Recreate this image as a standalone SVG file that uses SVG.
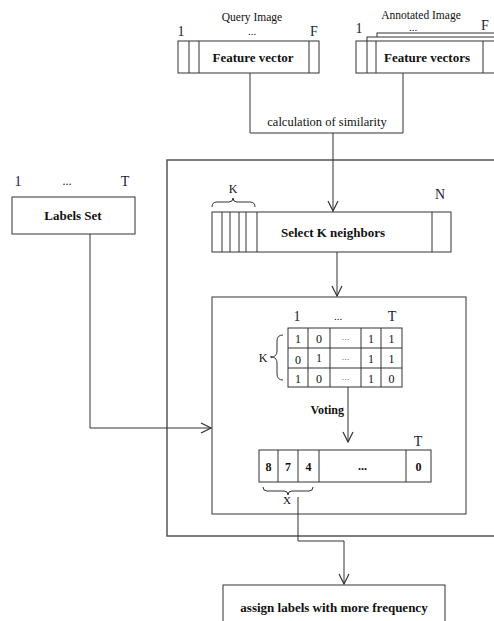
<svg xmlns="http://www.w3.org/2000/svg" width="494" height="621" viewBox="0 0 494 621">
<defs>
<style>
.box{fill:#fff;stroke:#333;stroke-width:1}
.ln{fill:none;stroke:#333;stroke-width:1}
.outer{fill:none;stroke:#555;stroke-width:1.5}
.t{font-family:"Liberation Serif","Times New Roman",serif;fill:#111;text-anchor:middle}
.b{font-weight:bold}
.idx{fill:#1a1a3a;font-size:14px}
</style>
<marker id="arr" viewBox="0 0 12 12" refX="11" refY="6" markerWidth="12" markerHeight="12" markerUnits="userSpaceOnUse" orient="auto">
<path d="M1,1 L11,6 L1,11" fill="none" stroke="#333" stroke-width="1.2"/>
</marker>
</defs>
<rect width="494" height="621" fill="#fff"/>

<g id="outer-frame">
<path class="outer" d="M494,160 H167 V536 H494"/>
</g>

<g id="query-image">
<text class="t" x="252" y="21" font-size="11.5">Query Image</text>
<text class="t idx" x="181" y="36">1</text>
<text class="t" x="252" y="35" font-size="11">...</text>
<text class="t idx" x="314" y="36">F</text>
<rect class="box" x="178" y="41" width="141" height="32"/>
<path class="ln" d="M189,41 V73 M199,41 V73 M309,41 V73"/>
<text class="t b" x="253" y="62" font-size="13">Feature vector</text>
</g>

<g id="annotated-image">
<text class="t" x="421" y="19" font-size="11.5">Annotated Image</text>
<text class="t idx" x="359" y="33">1</text>
<text class="t" x="413" y="31" font-size="11">...</text>
<text class="t idx" x="485" y="30">F</text>
<rect class="box" x="377" y="33" width="150" height="32"/>
<rect class="box" x="367" y="37" width="150" height="32"/>
<rect class="box" x="356" y="41" width="150" height="32"/>
<path class="ln" d="M367,41 V73 M376,41 V73 M483,41 V73"/>
<text class="t b" x="427" y="62" font-size="13">Feature vectors</text>
</g>

<g id="labels-set">
<text class="t idx" x="18" y="186">1</text>
<text class="t" x="67" y="185" font-size="12">...</text>
<text class="t idx" x="125" y="186">T</text>
<rect class="box" x="12" y="197" width="123" height="37"/>
<text class="t b" x="73" y="220" font-size="13">Labels Set</text>
</g>

<g id="select-k-neighbors">
<text class="t" x="233" y="193" font-size="12">K</text>
<path class="ln" d="M212,207 Q212,202 217,202 H229 Q233,202 233,198 Q233,202 237,202 H250 Q255,202 255,207"/>
<text class="t idx" x="440" y="199">N</text>
<rect class="box" x="212" y="212" width="239" height="40"/>
<path class="ln" d="M222,212 V252 M230,212 V252 M239,212 V252 M246,212 V252 M257,212 V252 M432,212 V252"/>
<text class="t b" x="333" y="237" font-size="13">Select K neighbors</text>
</g>

<g id="voting-box">
<rect class="box" x="212" y="297" width="254" height="217"/>
<text class="t idx" x="297" y="321">1</text>
<text class="t" x="338" y="320" font-size="11">...</text>
<text class="t idx" x="392" y="321">T</text>
<text class="t" x="263" y="362" font-size="12">K</text>
<path class="ln" d="M283,335 Q277,335 277,341 V351 Q277,357 271,357 Q277,357 277,363 V374 Q277,380 283,380"/>
<path class="ln" d="M270,357 H272"/>
<rect class="box" x="288" y="328" width="114" height="59"/>
<path class="ln" d="M288,348 H402 M288,368 H402 M308,328 V387 M330,328 V387 M361,328 V387 M381,328 V387"/>
<g class="t" font-size="12">
<text x="298" y="343">1</text><text x="319" y="343">0</text><text x="345.5" y="342" font-size="8">···</text><text x="371" y="343">1</text><text x="391.5" y="343">1</text>
<text x="298" y="364">0</text><text x="319" y="362">1</text><text x="345.5" y="362" font-size="8">···</text><text x="371" y="363">1</text><text x="391.5" y="363">1</text>
<text x="298" y="383">1</text><text x="319" y="383">0</text><text x="345.5" y="382" font-size="8">···</text><text x="371" y="383">1</text><text x="391.5" y="383">0</text>
</g>
<text class="t b" x="344" y="414" font-size="12" style="text-anchor:end">Voting</text>
<text class="t idx" x="418" y="446">T</text>
<rect class="box" x="259" y="450" width="172" height="32"/>
<path class="ln" d="M278,450 V482 M298,450 V482 M319,450 V482 M406,450 V482"/>
<g class="t b" font-size="12">
<text x="268.5" y="471">8</text><text x="288" y="471">7</text><text x="308.5" y="471">4</text><text x="362.5" y="470">...</text><text x="418.5" y="471">0</text>
</g>
<path class="ln" d="M263,487 Q263,491 267,491 H284 Q288,491 288,495 Q288,491 292,491 H309 Q313,491 313,487"/>
<text class="t" x="287" y="504" font-size="11">X</text>
</g>

<g id="assign-labels">
<rect class="box" x="223" y="585" width="222" height="45"/>
<text class="t b" x="334" y="612" font-size="13">assign labels with more frequency</text>
</g>

<g id="connectors">
<path class="ln" d="M250,73 V133 H403 V73"/>
<text class="t" x="327" y="126" font-size="12.5">calculation of similarity</text>
<path class="ln" d="M333,133 V211" marker-end="url(#arr)"/>
<path class="ln" d="M337,252 V296" marker-end="url(#arr)"/>
<path class="ln" d="M90,234 V428 H211" marker-end="url(#arr)"/>
<path class="ln" d="M348,387 V442" marker-end="url(#arr)"/>
<path class="ln" d="M298,497 V541 H344 V584" marker-end="url(#arr)"/>
</g>
</svg>
